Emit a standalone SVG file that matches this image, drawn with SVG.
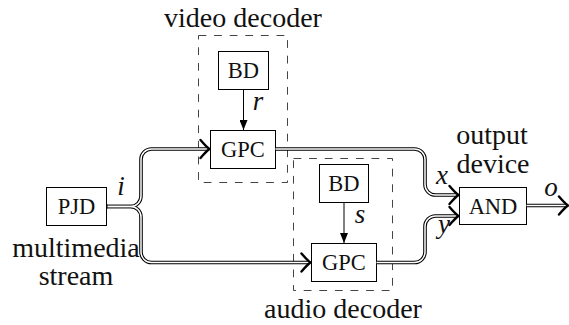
<svg xmlns="http://www.w3.org/2000/svg" xmlns:xlink="http://www.w3.org/1999/xlink" width="569" height="325" viewBox="0 0 569 325">
<style>
  .box { fill: #fff; stroke: #000; stroke-width: 1; }
  .grp { fill: none; stroke: #444; stroke-width: 1; stroke-dasharray: 7.8 7.8; }
  text { font-family: "Liberation Serif", "Times New Roman", serif; fill: #111; text-anchor: middle; }
  .lbl { font-size: 28px; }
  .blbl { font-size: 22.5px; }
  .math { font-style: italic; font-size: 27px; }
  .dbo { fill: none; stroke: #000; stroke-width: 3.6; }
  .dbi { fill: none; stroke: #fff; stroke-width: 1.5; }
  .sgl { fill: none; stroke: #000; stroke-width: 1; }
  .ah { fill: none; stroke: #000; stroke-width: 2.4; stroke-linecap: round; stroke-linejoin: round; }
</style>
<defs>
  <path id="chev" class="ah" d="M-9,-9 Q-3,-2 0,0 Q-3,2 -9,9"/>
  <marker id="tri" viewBox="0 0 10 8" refX="10" refY="4" markerWidth="10" markerHeight="8" markerUnits="userSpaceOnUse" orient="auto">
    <path d="M0,0 L10,4 L0,8 Z" fill="#000"/>
  </marker>
</defs>

<g id="video-decoder">
  <rect class="grp" x="198.5" y="35.5" width="89" height="147"/>
  <text class="lbl" x="243" y="27">video decoder</text>
</g>
<g id="audio-decoder">
  <rect class="grp" x="293.5" y="158.5" width="99" height="132"/>
  <text class="lbl" x="343" y="318">audio decoder</text>
</g>

<g id="bd1">
  <rect class="box" x="218.5" y="51.5" width="50" height="38"/>
  <text class="blbl" x="243.5" y="78">BD</text>
</g>
<g id="gpc1">
  <rect class="box" x="210.5" y="130.5" width="65" height="38"/>
  <text class="blbl" x="243" y="157">GPC</text>
</g>
<g id="pjd">
  <rect class="box" x="46.5" y="187.5" width="60" height="38"/>
  <text class="blbl" x="76.5" y="214">PJD</text>
  <text class="lbl" x="76" y="257">multimedia</text>
  <text class="lbl" x="76" y="285">stream</text>
</g>
<g id="bd2">
  <rect class="box" x="319.5" y="164.5" width="49" height="38"/>
  <text class="blbl" x="344" y="191">BD</text>
</g>
<g id="gpc2">
  <rect class="box" x="311.5" y="243.5" width="65" height="38"/>
  <text class="blbl" x="344" y="270">GPC</text>
</g>
<g id="and">
  <rect class="box" x="459.5" y="187.5" width="67" height="37"/>
  <text class="blbl" x="493" y="214">AND</text>
  <text class="lbl" x="492" y="144">output</text>
  <text class="lbl" x="493" y="173">device</text>
</g>

<g id="connectors">
  <path class="sgl" d="M243.5,89.5 V130" marker-end="url(#tri)"/>
  <path class="sgl" d="M344,202.5 V243" marker-end="url(#tri)"/>
  <text class="math" x="258" y="110">r</text>
  <text class="math" x="360" y="223">s</text>

  <path class="dbo" d="M106.5,206.5 H130.5 A10.5,10.5 0 0 0 141,196 V159.5 A10.5,10.5 0 0 1 151.5,149 H208"/>
  <path class="dbo" d="M106.5,206.5 H130.5 A10.5,10.5 0 0 1 141,217 V252 A10.5,10.5 0 0 0 151.5,262.5 H309"/>
  <path class="dbo" d="M275.5,149 H414.5 A10.5,10.5 0 0 1 425,159.5 V184.5 A10.5,10.5 0 0 0 435.5,195 H457"/>
  <path class="dbo" d="M376.5,262.5 H414.5 A10.5,10.5 0 0 0 425,252 V226.5 A10.5,10.5 0 0 1 435.5,216 H457"/>
  <path class="dbo" d="M526.5,205.5 H567"/>
  <path class="dbi" d="M106.5,206.5 H130.5 A10.5,10.5 0 0 0 141,196 V159.5 A10.5,10.5 0 0 1 151.5,149 H208"/>
  <path class="dbi" d="M106.5,206.5 H130.5 A10.5,10.5 0 0 1 141,217 V252 A10.5,10.5 0 0 0 151.5,262.5 H309"/>
  <path class="dbi" d="M275.5,149 H414.5 A10.5,10.5 0 0 1 425,159.5 V184.5 A10.5,10.5 0 0 0 435.5,195 H457"/>
  <path class="dbi" d="M376.5,262.5 H414.5 A10.5,10.5 0 0 0 425,252 V226.5 A10.5,10.5 0 0 1 435.5,216 H457"/>
  <path class="dbi" d="M526.5,205.5 H567"/>
  <rect x="106" y="204.5" width="1.5" height="4" fill="#000"/>

  <use xlink:href="#chev" transform="translate(209.5,149)"/>
  <use xlink:href="#chev" transform="translate(310.5,262.5)"/>
  <use xlink:href="#chev" transform="translate(458.5,195)"/>
  <use xlink:href="#chev" transform="translate(458.5,216)"/>
  <use xlink:href="#chev" transform="translate(568,205.5)"/>

  <text class="math" x="121" y="195">i</text>
  <text class="math" x="442" y="184">x</text>
  <text class="math" x="444" y="233">y</text>
  <text class="math" x="551" y="196">o</text>
</g>
</svg>
